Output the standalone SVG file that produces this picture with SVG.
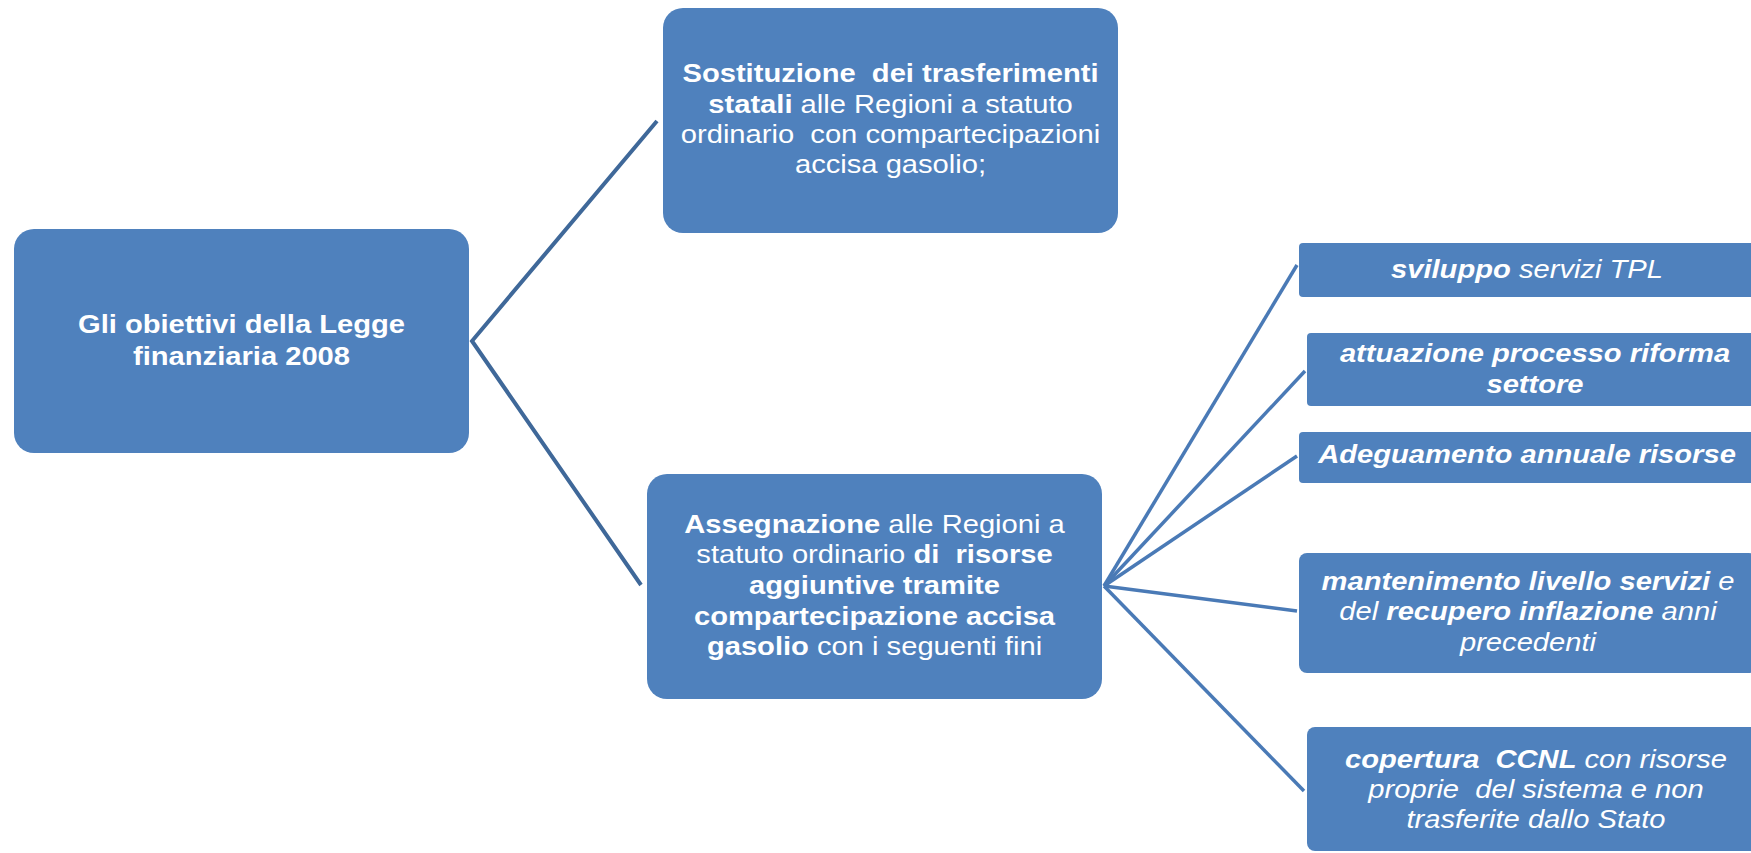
<svg xmlns="http://www.w3.org/2000/svg" width="1751" height="853" viewBox="0 0 1751 853">
<style>
.box{fill:#4F81BD}
.t{font-family:"Liberation Sans",Arial,sans-serif;font-size:26.5px;fill:#FFFFFF;text-anchor:middle;white-space:pre}
.b{font-weight:bold}
.i{font-style:italic}
.cl{stroke:#3F6899;stroke-width:4;fill:none}
.cr{stroke:#4A7AB6;stroke-width:3.5;fill:none}
</style>
<rect width="1751" height="853" fill="#FFFFFF"/>
<g id="connectors">
<path class="cl" d="M657,121 L472,341 L641,585"/>
<path class="cr" d="M1297,265 L1104,586"/>
<path class="cr" d="M1305,371 L1104,586"/>
<path class="cr" d="M1297,456 L1104,586"/>
<path class="cr" d="M1297,611 L1104,586"/>
<path class="cr" d="M1304,791 L1104,586"/>
</g>
<g id="root">
<rect class="box" x="14" y="229" width="455" height="224" rx="20"/>
<g transform="translate(241.5 0) scale(1.1 1)">
<text class="t b" x="0" y="333">Gli obiettivi della Legge</text>
<text class="t b" x="0" y="365">finanziaria 2008</text>
</g>
</g>
<g id="sostituzione">
<rect class="box" x="663" y="8" width="455" height="225" rx="20"/>
<g transform="translate(890.5 0) scale(1.1 1)">
<text class="t b" x="0" y="82">Sostituzione  dei trasferimenti</text>
<text class="t" x="0" y="113"><tspan class="b">statali</tspan> alle Regioni a statuto</text>
<text class="t" x="0" y="143">ordinario  con compartecipazioni</text>
<text class="t" x="0" y="173">accisa gasolio;</text>
</g>
</g>
<g id="assegnazione">
<rect class="box" x="647" y="474" width="455" height="225" rx="20"/>
<g transform="translate(874.5 0) scale(1.1 1)">
<text class="t" x="0" y="533"><tspan class="b">Assegnazione</tspan> alle Regioni a</text>
<text class="t" x="0" y="563">statuto ordinario <tspan class="b">di  risorse</tspan></text>
<text class="t b" x="0" y="594">aggiuntive tramite</text>
<text class="t b" x="0" y="625">compartecipazione accisa</text>
<text class="t" x="0" y="655"><tspan class="b">gasolio</tspan> con i seguenti fini</text>
</g>
</g>
<g id="sviluppo">
<rect class="box" x="1299" y="243" width="458" height="54" rx="4"/>
<g transform="translate(1527 0) scale(1.1 1)">
<text class="t i" x="0" y="278"><tspan class="b">sviluppo</tspan> servizi TPL</text>
</g>
</g>
<g id="attuazione">
<rect class="box" x="1307" y="333" width="458" height="73" rx="4"/>
<g transform="translate(1535 0) scale(1.1 1)">
<text class="t i b" x="0" y="362">attuazione processo riforma</text>
<text class="t i b" x="0" y="393">settore</text>
</g>
</g>
<g id="adeguamento">
<rect class="box" x="1299" y="432" width="458" height="51" rx="4"/>
<g transform="translate(1527 0) scale(1.1 1)">
<text class="t i b" x="0" y="463">Adeguamento annuale risorse</text>
</g>
</g>
<g id="mantenimento">
<rect class="box" x="1299" y="553" width="458" height="120" rx="8"/>
<g transform="translate(1528 0) scale(1.1 1)">
<text class="t i" x="0" y="590"><tspan class="b">mantenimento livello servizi</tspan> e</text>
<text class="t i" x="0" y="620">del <tspan class="b">recupero inflazione</tspan> anni</text>
<text class="t i" x="0" y="651">precedenti</text>
</g>
</g>
<g id="copertura">
<rect class="box" x="1307" y="727" width="458" height="124" rx="8"/>
<g transform="translate(1536 0) scale(1.1 1)">
<text class="t i" x="0" y="768"><tspan class="b">copertura  CCNL</tspan> con risorse</text>
<text class="t i" x="0" y="798">proprie  del sistema e non</text>
<text class="t i" x="0" y="828">trasferite dallo Stato</text>
</g>
</g>
</svg>
